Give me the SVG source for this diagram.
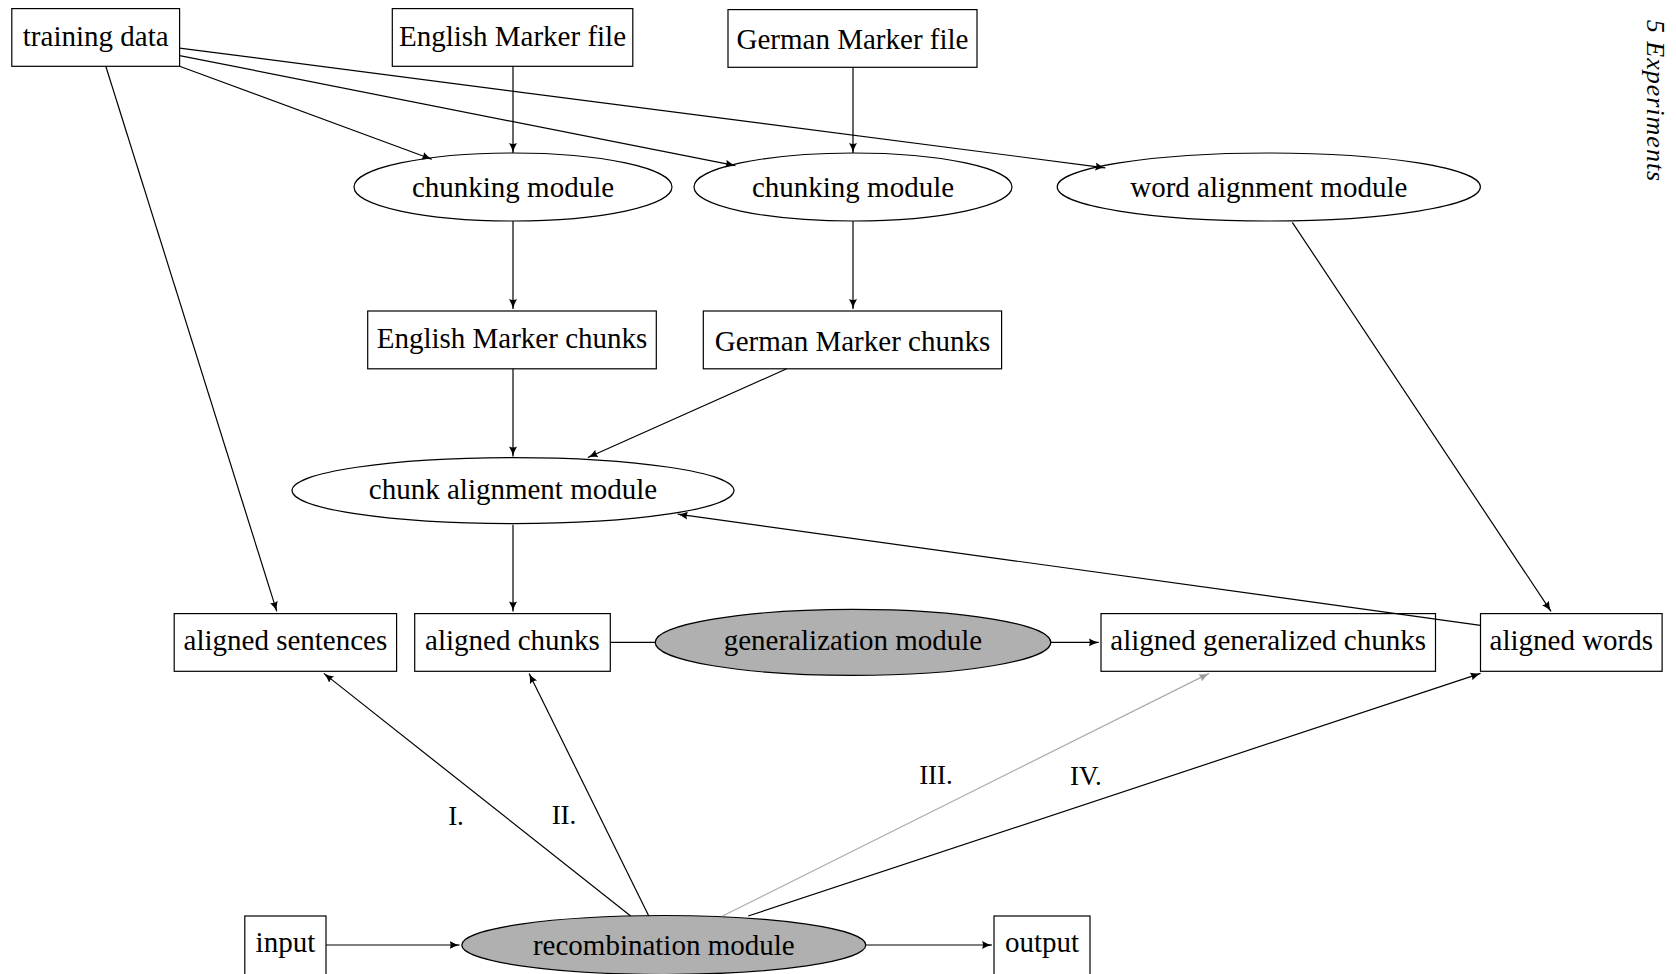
<svg xmlns="http://www.w3.org/2000/svg" width="1676" height="974" viewBox="0 0 1676 974">
<defs>
<marker id="ah" markerWidth="12" markerHeight="10" refX="10" refY="5" orient="auto" markerUnits="userSpaceOnUse">
<path d="M0,1 Q5,4 10,5 Q5,6 0,9 Q2,5 0,1 Z" fill="#000"/>
</marker>
<marker id="ahg" markerWidth="12" markerHeight="10" refX="10" refY="5" orient="auto" markerUnits="userSpaceOnUse">
<path d="M0,1 Q5,4 10,5 Q5,6 0,9 Q2,5 0,1 Z" fill="#999"/>
</marker>
</defs>
<style>
.box{fill:#fff;stroke:#000;stroke-width:1.2}
.ell{fill:#fff;stroke:#000;stroke-width:1.2}
.gray{fill:#b0b0b0;stroke:#000;stroke-width:1.2}
.t{font-family:"Liberation Serif",serif;font-size:29px;fill:#000;text-anchor:middle;dominant-baseline:central}
.c{stroke:#000;stroke-width:1.2;fill:none}
.a{marker-end:url(#ah)}
.g{stroke:#aaa;stroke-width:1.2;fill:none;marker-end:url(#ahg)}
.lbl{font-family:"Liberation Serif",serif;font-size:27px;fill:#000;text-anchor:middle;dominant-baseline:central}
</style>
<rect width="1676" height="974" fill="#fff"/>
<g id="training-data"><rect class="box" x="11.8" y="8.6" width="167.8" height="57.7"/><text class="t" x="95.7" y="35.5">training data</text></g>
<g id="english-marker-file"><rect class="box" x="392.3" y="8.6" width="240.5" height="57.7"/><text class="t" x="512.5" y="35.5">English Marker file</text></g>
<g id="german-marker-file"><rect class="box" x="728" y="9.6" width="249" height="57.7"/><text class="t" x="852.5" y="38.5">German Marker file</text></g>
<g id="chunking-module-1"><ellipse class="ell" cx="513" cy="187" rx="159" ry="34"/><text class="t" x="513" y="187">chunking module</text></g>
<g id="chunking-module-2"><ellipse class="ell" cx="853" cy="187" rx="159" ry="34"/><text class="t" x="853" y="187">chunking module</text></g>
<g id="word-alignment-module"><ellipse class="ell" cx="1268.8" cy="187" rx="211.6" ry="34"/><text class="t" x="1268.8" y="187">word alignment module</text></g>
<g id="english-marker-chunks"><rect class="box" x="367.7" y="311" width="288.6" height="57.8"/><text class="t" x="512" y="338">English Marker chunks</text></g>
<g id="german-marker-chunks"><rect class="box" x="703.3" y="311" width="298.3" height="57.8"/><text class="t" x="852.5" y="341">German Marker chunks</text></g>
<g id="chunk-alignment-module"><ellipse class="ell" cx="513" cy="490.6" rx="221" ry="33"/><text class="t" x="513" y="489">chunk alignment module</text></g>
<g id="aligned-sentences"><rect class="box" x="174.2" y="613.6" width="222.4" height="57.7"/><text class="t" x="285.4" y="640">aligned sentences</text></g>
<g id="aligned-chunks"><rect class="box" x="414.7" y="613.6" width="195.6" height="57.7"/><text class="t" x="512.5" y="640">aligned chunks</text></g>
<g id="generalization-module"><ellipse class="gray" cx="853" cy="642.4" rx="197.8" ry="33"/><text class="t" x="853" y="640">generalization module</text></g>
<g id="aligned-generalized-chunks"><rect class="box" x="1101" y="613.6" width="334.5" height="57.7"/><text class="t" x="1268.2" y="640">aligned generalized chunks</text></g>
<g id="aligned-words"><rect class="box" x="1480.5" y="613.6" width="181.6" height="57.7"/><text class="t" x="1571.3" y="640">aligned words</text></g>
<g id="input"><rect class="box" x="244.8" y="916" width="81.2" height="70"/><text class="t" x="285.4" y="942">input</text></g>
<g id="recombination-module"><ellipse class="gray" cx="663.8" cy="945" rx="202" ry="29.5"/><text class="t" x="663.8" y="945">recombination module</text></g>
<g id="output"><rect class="box" x="994" y="916" width="96" height="70"/><text class="t" x="1042" y="942">output</text></g>
<g id="connectors">
<line class="c a" x1="179.6" y1="66.3" x2="431.8" y2="159.3"/>
<line class="c a" x1="179.6" y1="55.6" x2="735.4" y2="165.7"/>
<line class="c a" x1="179.6" y1="48.1" x2="1105.3" y2="167.8"/>
<line class="c a" x1="105.8" y1="66.3" x2="276.8" y2="611.4"/>
<line class="c a" x1="513" y1="66.3" x2="513" y2="152.9"/>
<line class="c a" x1="853" y1="67.3" x2="853" y2="152.9"/>
<line class="c a" x1="513" y1="221" x2="513" y2="309"/>
<line class="c a" x1="853" y1="221" x2="853" y2="309"/>
<line class="c a" x1="513" y1="368.8" x2="513" y2="456.4"/>
<line class="c a" x1="786.7" y1="368.8" x2="587.9" y2="457.5"/>
<line class="c a" x1="1292.3" y1="222.3" x2="1551" y2="611.4"/>
<line class="c a" x1="1480.5" y1="625.3" x2="677.7" y2="514.2"/>
<line class="c a" x1="513" y1="524.8" x2="513" y2="611.4"/>
<line class="c" x1="610.3" y1="642.4" x2="655.3" y2="642.4"/>
<line class="c a" x1="1050.8" y1="642.4" x2="1098.8" y2="642.4"/>
<line class="c a" x1="630.7" y1="916" x2="323.9" y2="673.4"/>
<line class="c a" x1="648.8" y1="916" x2="529.1" y2="673.4"/>
<line class="g" x1="722.6" y1="916" x2="1209" y2="673.4"/>
<line class="c a" x1="748.2" y1="916" x2="1480.5" y2="673.4"/>
<line class="c a" x1="326" y1="945" x2="459.6" y2="945"/>
<line class="c a" x1="865.8" y1="945" x2="992" y2="945"/>
</g>
<g id="labels">
<text class="lbl" x="456" y="815.6">I.</text>
<text class="lbl" x="564" y="814.5">II.</text>
<text class="lbl" x="936" y="775">III.</text>
<text class="lbl" x="1086" y="776">IV.</text>
</g>
<text x="1655" y="101" transform="rotate(90 1655 101)" style="font-family:'Liberation Serif',serif;font-style:italic;font-size:26px;letter-spacing:1px;text-anchor:middle;dominant-baseline:central">5 Experiments</text>
</svg>
